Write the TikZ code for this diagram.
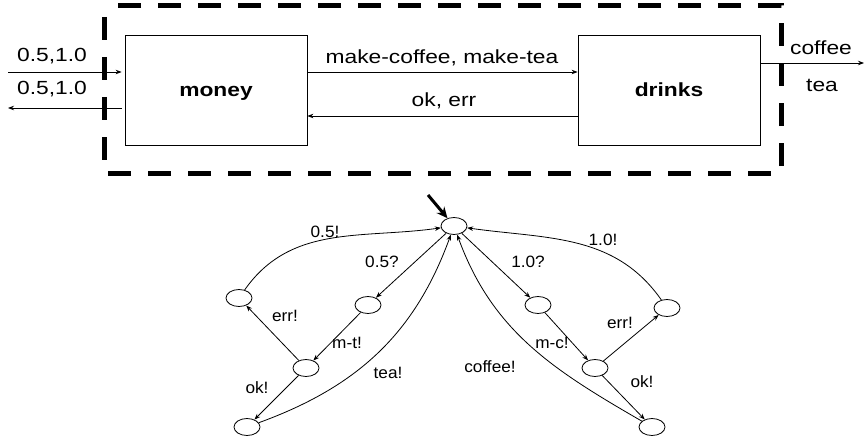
\documentclass[tikz,border=0pt]{standalone}
\usepackage{fontspec}
\setmainfont{Liberation Sans}[FakeStretch=1.05]
\newfontfamily\widesans{Liberation Sans}[FakeStretch=1.2]
\usetikzlibrary{arrows.meta,shapes.geometric}

\begin{document}
\begin{tikzpicture}[x=1pt,y=1pt,line width=0.8pt,
    >={Stealth[length=6pt,width=4.5pt]},
    unit/.style={draw, minimum width=182pt, minimum height=110pt, inner sep=0pt,
        text height=16pt, text depth=2pt, font=\widesans\fontsize{19}{22}\selectfont\bfseries},
    state/.style={draw, ellipse, minimum width=26pt, minimum height=17pt, inner sep=0pt},
    sig/.style={anchor=base, inner sep=0pt, font=\widesans\fontsize{19}{22}\selectfont},
    act/.style={inner sep=0pt, font=\fontsize{16.4}{19}\selectfont}]
    \useasboundingbox (0,0) rectangle (864,440);

    % system boundary
    \draw[line width=5pt, dash pattern=on 23pt off 17pt, dash phase=29pt] (104,434) rectangle (781,267);

    \node [unit] (money) at (216,350) {money};
    \node [unit] (drinks) at (669,350) {drinks};
    \coordinate (coinin) at (8,368);
    \coordinate (coinout) at (8,332);
    \coordinate (cup) at (864,377);

    \draw[->, shorten >=3pt] (coinin) -- (coinin -| money.west);
    \draw[->, shorten <=3pt] (coinout -| money.west) -- (coinout);
    \draw[->] ([yshift=18pt]money.east) -- ([yshift=18pt]drinks.west);
    \draw[->] ([yshift=-26pt]drinks.west) -- ([yshift=-26pt]money.east);
    \draw[->] ([yshift=27pt]drinks.east) -- (cup);

    \node [sig] (inlbl) at (52,378) {0.5,1.0};
    \node [sig] (outlbl) at (52,345) {0.5,1.0};
    \node [sig] (makelbl) at (442,376) {make-coffee, make-tea};
    \node [sig] (oklbl) at (444,334) {ok, err};
    \node [sig] (coffeelbl) at (821,385) {coffee};
    \node [sig] (tealbl) at (822,348) {tea};

    % automaton
    \node [state] (top) at (454,214) {};
    \node [state] (lft) at (239,142) {};
    \node [state] (h05) at (368,135) {};
    \node [state] (mt) at (306,72) {};
    \node [state] (okl) at (247,13) {};
    \node [state] (h10) at (538,135) {};
    \node [state] (rgt) at (667,132) {};
    \node [state] (mc) at (595,72) {};
    \node [state] (okr) at (652,13) {};

    \coordinate (start) at (428,245);
    \draw[line width=3pt, -{Stealth[length=11pt,width=10pt]}] (start) -- (top);

    \draw[->] (top) -- (h05);
    \draw[->] (h05) -- (mt);
    \draw[->] (mt) -- (lft);
    \draw[->] (mt) -- (okl);
    \draw[->] (lft) to[out=55,in=188] (top);
    \draw[->] (okl) to[out=20,in=250] (top);

    \draw[->] (top) -- (h10);
    \draw[->] (h10) -- (mc);
    \draw[->] (mc) -- (rgt);
    \draw[->] (mc) -- (okr);
    \draw[->] (rgt) to[out=125,in=-8] (top);
    \draw[->] (okr) to[out=150,in=290] (top);

    \node [act] (a05out) at (325,208) {0.5!};
    \node [act] (a05in) at (382,178) {0.5?};
    \node [act] (aerrl) at (285,124) {err!};
    \node [act] (amt) at (347,97) {m-t!};
    \node [act] (aokl) at (257,52) {ok!};
    \node [act] (atea) at (388,67) {tea!};
    \node [act] (a10in) at (528,178) {1.0?};
    \node [act] (amc) at (552,97) {m-c!};
    \node [act] (aerrr) at (620,117) {err!};
    \node [act] (aokr) at (642,58) {ok!};
    \node [act] (acoffee) at (490,73) {coffee!};
    \node [act] (a10out) at (603,200) {1.0!};
\end{tikzpicture}
\end{document}
